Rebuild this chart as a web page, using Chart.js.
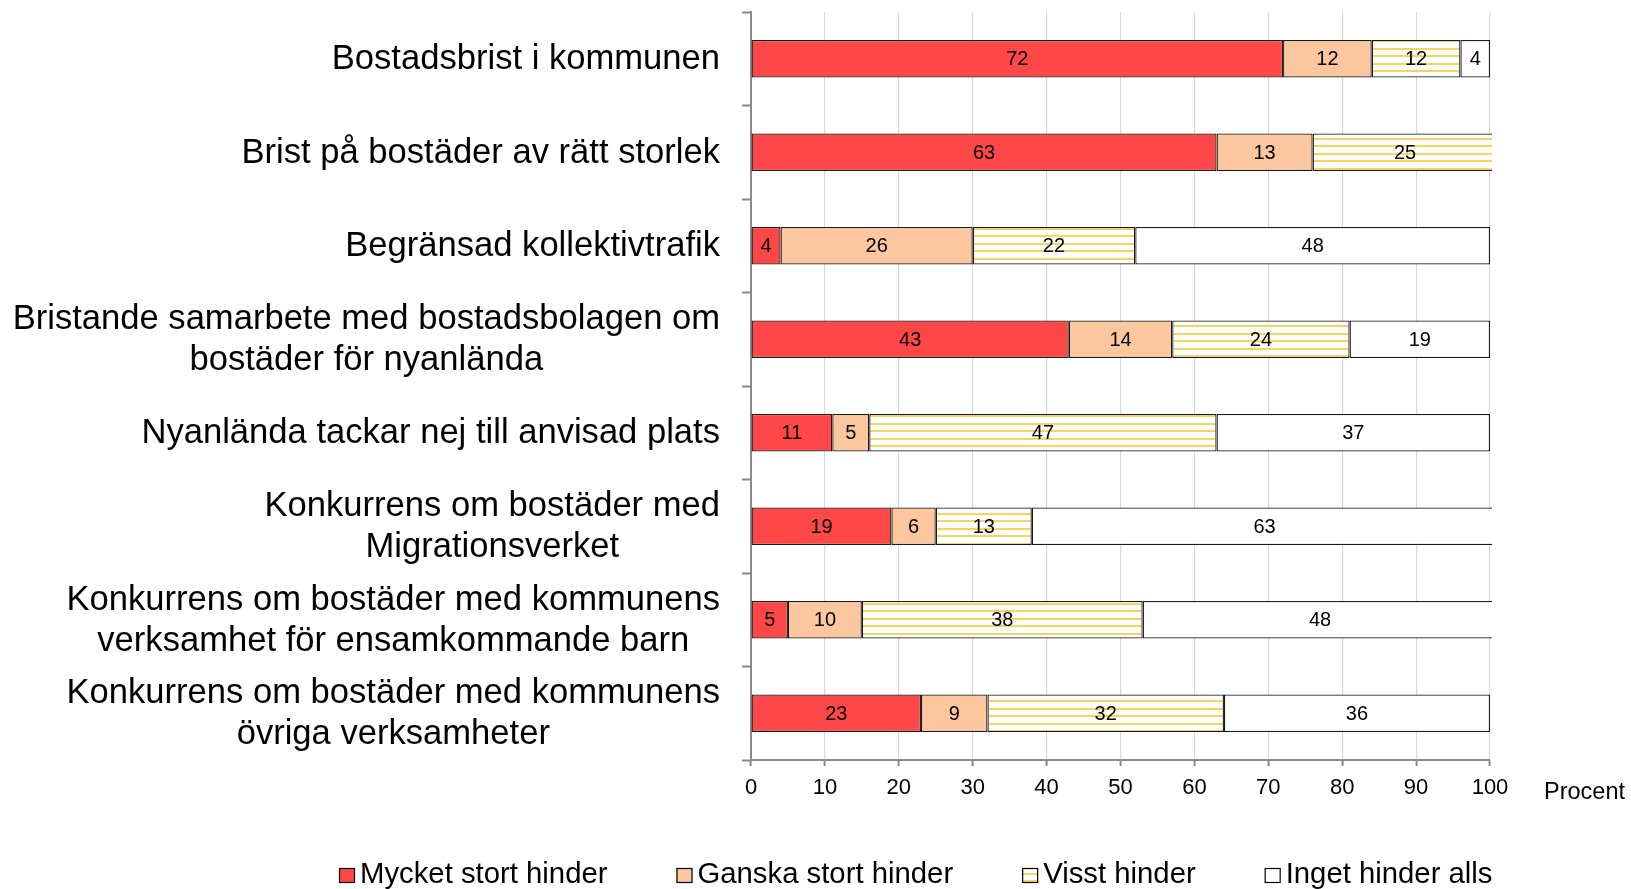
<!DOCTYPE html>
<html>
<head>
<meta charset="utf-8">
<script src="https://cdn.jsdelivr.net/npm/chart.js@4.4.1/dist/chart.umd.min.js"></script>
<style>
  body { margin: 0; background: #fff; }
  canvas { display: block; }
</style>
</head>
<body>
<canvas id="hinderChart" width="1631" height="889"></canvas>
<script>
const categories = [
  ['Bostadsbrist i kommunen'],
  ['Brist på bostäder av rätt storlek'],
  ['Begränsad kollektivtrafik'],
  ['Bristande samarbete med bostadsbolagen om', 'bostäder för nyanlända'],
  ['Nyanlända tackar nej till anvisad plats'],
  ['Konkurrens om bostäder med', 'Migrationsverket'],
  ['Konkurrens om bostäder med kommunens', 'verksamhet för ensamkommande barn'],
  ['Konkurrens om bostäder med kommunens', 'övriga verksamheter']
];
const seriesNames = ['Mycket stort hinder', 'Ganska stort hinder', 'Visst hinder', 'Inget hinder alls'];
const mycketStort = [72, 63, 4, 43, 11, 19, 5, 23];
const ganskaStort = [12, 13, 26, 14, 5, 6, 10, 9];
const visstHinder = [12, 25, 22, 24, 47, 13, 38, 32];
const ingetHinder = [4, null, 48, 19, 37, 63, 48, 36];
const xTicks = [0, 10, 20, 30, 40, 50, 60, 70, 80, 90, 100];
const axisTitle = 'Procent';

const fontFamily = '"Liberation Sans", Arial, sans-serif';
const canvas = document.getElementById('hinderChart');
const ctx = canvas.getContext('2d');

// yellow horizontal stripes on white for "Visst hinder"
function stripes() {
  const c = document.createElement('canvas');
  c.width = 8;
  c.height = 15;
  const g = c.getContext('2d');
  g.fillStyle = '#fff';
  g.fillRect(0, 0, 8, 15);
  g.fillStyle = '#F7D55A';
  g.fillRect(0, 3, 8, 2);
  g.fillRect(0, 10, 8, 2);
  return ctx.createPattern(c, 'repeat');
}

const colors = ['#FF4747', '#FCC69F', stripes(), '#FFFFFF'];
const values = [mycketStort, ganskaStort, visstHinder, ingetHinder];

// numbers inside the bars, category labels, axis title and legend
const extras = {
  id: 'extras',
  afterDatasetsDraw(chart) {
    const c = chart.ctx;
    c.save();
    c.font = '20px ' + fontFamily;
    c.fillStyle = '#000';
    c.textAlign = 'center';
    c.textBaseline = 'middle';
    chart.data.datasets.forEach((ds, di) => {
      chart.getDatasetMeta(di).data.forEach((bar, i) => {
        const v = ds.data[i];
        if (v == null) return;
        c.fillText(String(v), (bar.x + bar.base) / 2, bar.y + 1);
      });
    });
    c.restore();
  },
  afterDraw(chart) {
    const c = chart.ctx;
    const yScale = chart.scales.y;
    c.save();
    c.fillStyle = '#000';

    // category labels: block right aligned, lines centred in the block
    c.font = '34.6px ' + fontFamily;
    c.textAlign = 'center';
    c.textBaseline = 'middle';
    const lineH = 41;
    categories.forEach((lines, i) => {
      const yc = yScale.getPixelForValue(i);
      const w = Math.max(...lines.map(l => c.measureText(l).width));
      const cx = 720 - w / 2;
      lines.forEach((l, k) => {
        c.fillText(l, cx, yc + (k - (lines.length - 1) / 2) * lineH + 1);
      });
    });

    // "Procent"
    c.font = '23.5px ' + fontFamily;
    c.textAlign = 'left';
    c.fillText(axisTitle, 1544, 793);

    // legend
    c.font = '29.3px ' + fontFamily;
    c.textBaseline = 'alphabetic';
    let x = 339;
    chart.data.datasets.forEach(ds => {
      c.fillStyle = ds.backgroundColor;
      c.fillRect(x, 868, 16, 15);
      c.strokeStyle = '#000';
      c.lineWidth = 1.2;
      c.strokeRect(x + 0.5, 868.5, 15, 14);
      c.fillStyle = '#000';
      c.fillText(ds.label, x + 21, 883);
      x += 21 + c.measureText(ds.label).width + 69;
    });
    c.restore();
  }
};

new Chart(ctx, {
  type: 'bar',
  data: {
    labels: categories.map(l => l.join(' ')),
    datasets: seriesNames.map((name, i) => ({
      label: name,
      data: values[i],
      backgroundColor: colors[i],
      borderColor: '#1a1a1a',
      borderWidth: 1.3,
      borderSkipped: false,
      categoryPercentage: 1,
      barPercentage: 0.4,
      clip: { left: 2, top: false, right: 2, bottom: false }
    }))
  },
  options: {
    indexAxis: 'y',
    responsive: false,
    animation: false,
    devicePixelRatio: 1,
    layout: { padding: { top: 12, right: 141, left: 0, bottom: 0 } },
    plugins: {
      legend: { display: false },
      tooltip: { enabled: false }
    },
    scales: {
      x: {
        stacked: true,
        min: 0,
        max: 100,
        afterBuildTicks: s => { s.ticks = xTicks.map(v => ({ value: v })); },
        afterFit: s => { s.height = 889 - 760; },
        border: { color: '#8a8a8a', width: 2 },
        grid: { color: '#d9d9d9', lineWidth: 1.2, tickColor: '#8a8a8a', tickLength: 6, tickWidth: 2 },
        ticks: { color: '#000', padding: 9, maxRotation: 0, font: { size: 22, family: fontFamily } }
      },
      y: {
        stacked: true,
        afterFit: s => { s.width = 751; },
        border: { color: '#8a8a8a', width: 2 },
        grid: { drawOnChartArea: false, offset: true, tickColor: '#8a8a8a', tickLength: 9, tickWidth: 2 },
        ticks: { display: false }
      }
    }
  },
  plugins: [extras]
});
</script>
</body>
</html>
